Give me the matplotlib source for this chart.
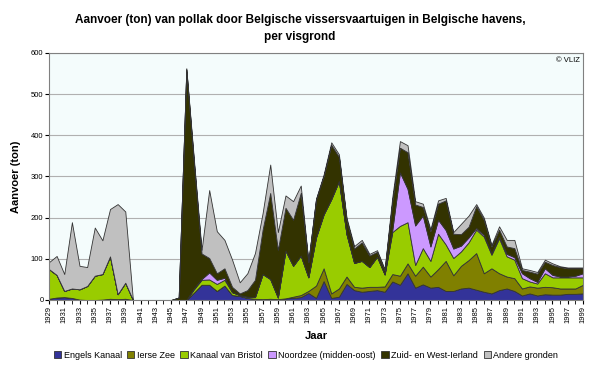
import numpy as np
import matplotlib
matplotlib.use('Agg')
import matplotlib.pyplot as plt
from matplotlib.patches import Patch

years = np.arange(1929, 2000)

# ton per visgrond, 1929-1999
engels_kanaal = [3, 6, 7, 5, 1, 0, 0, 1, 3, 2, 3, 0, 0, 0, 0, 0, 0, 0, 0, 18,
                 37, 37, 22, 35, 12, 10, 5, 3, 2, 3, 2, 4, 5, 7, 17, 5, 46, 5, 8, 39,
                 24, 20, 22, 24, 20, 45, 37, 65, 30, 38, 30, 32, 22, 22, 28, 30, 25, 20, 16, 24,
                 28, 22, 11, 16, 11, 14, 13, 13, 15, 15, 16]
ierse_zee = [0, 0, 0, 0, 0, 0, 0, 0, 0, 0, 0, 0, 0, 0, 0, 0, 0, 0, 0, 0,
             0, 0, 0, 0, 0, 0, 0, 0, 0, 0, 0, 0, 3, 5, 5, 30, 31, 11, 20, 18,
             8, 10, 10, 8, 13, 18, 22, 24, 29, 43, 27, 43, 73, 38, 55, 67, 89, 45, 61, 41,
             29, 31, 17, 17, 19, 18, 18, 15, 13, 13, 21]
kanaal_bristol = [72, 55, 15, 23, 25, 34, 59, 62, 103, 12, 39, 0, 0, 0, 0, 0, 0, 0, 0, 8,
                  12, 13, 17, 14, 7, 2, 3, 4, 61, 48, 4, 116, 75, 96, 33, 117, 131, 229, 261, 103,
                  58, 65, 48, 73, 29, 102, 121, 100, 26, 45, 38, 86, 40, 42, 35, 43, 57, 89, 33, 85,
                  49, 45, 25, 12, 10, 33, 24, 27, 27, 27, 18]
noordzee = [0, 0, 0, 0, 0, 0, 0, 0, 0, 0, 0, 0, 0, 0, 0, 0, 0, 0, 0, 2,
            2, 17, 10, 5, 0, 0, 0, 0, 0, 0, 0, 0, 0, 0, 0, 0, 0, 0, 0, 0,
            0, 0, 0, 0, 0, 5, 130, 81, 96, 79, 35, 34, 35, 23, 14, 12, 4, 4, 3, 4,
            6, 6, 12, 8, 4, 12, 6, 2, 2, 4, 10]
zuid_west_ierland = [0, 0, 0, 0, 0, 0, 0, 0, 0, 0, 0, 0, 0, 0, 0, 0, 0, 6, 560, 305,
                     62, 35, 16, 23, 13, 4, 16, 42, 108, 209, 116, 104, 112, 152, 37, 92, 93, 132, 59, 35,
                     35, 45, 28, 12, 10, 70, 60, 89, 51, 21, 37, 39, 72, 36, 28, 26, 53, 37, 17, 17,
                     18, 22, 8, 16, 20, 16, 24, 23, 20, 18, 12]
andere = [17, 46, 41, 161, 57, 46, 117, 82, 115, 219, 173, 0, 0, 0, 0, 0, 0, 0, 3, 7,
          9, 165, 102, 69, 66, 27, 41, 65, 40, 69, 43, 30, 45, 18, 1, 2, 4, 6, 6, 5,
          6, 6, 4, 4, 3, 10, 16, 17, 8, 8, 5, 8, 6, 4, 25, 27, 5, 5, 4, 8,
          16, 20, 4, 4, 4, 5, 4, 2, 2, 2, 2]

names = ['Engels Kanaal', 'Ierse Zee', 'Kanaal van Bristol', 'Noordzee (midden-oost)',
         'Zuid- en West-Ierland', 'Andere gronden']
colors = ['#333399', '#808000', '#99CC00', '#CC99FF', '#333300', '#C0C0C0']

plt.rcParams['font.family'] = ['Liberation Sans', 'DejaVu Sans']

fig = plt.figure(figsize=(6, 3.68), dpi=100)
ax = fig.add_axes([49/600, 1-300/368, (583-49)/600, (300-53)/368])
ax.set_facecolor('#F4FCFC')

ax.stackplot(years, engels_kanaal, ierse_zee, kanaal_bristol, noordzee,
             zuid_west_ierland, andere, colors=colors,
             edgecolor='#333333', linewidth=0.6)

ax.set_xlim(1929, 1999)
ax.set_ylim(0, 600)
ax.set_yticks(range(0, 601, 100))
ax.set_xticks(range(1929, 2000, 2))
ax.set_xticks(range(1929, 2000), minor=True)
ax.tick_params(axis='x', labelrotation=90, labelsize=5.5, length=3, pad=1)
ax.tick_params(axis='x', which='minor', length=3)
ax.tick_params(axis='y', labelsize=5.5, length=3, pad=1)
ax.grid(axis='y', color='#B0B0B0', linewidth=0.8)
ax.set_axisbelow(True)
for s in ax.spines.values():
    s.set_color('#808080')
    s.set_linewidth(0.8)

ax.set_ylabel('Aanvoer (ton)', fontsize=8, fontweight='bold', labelpad=7)
ax.set_xlabel('Jaar', fontsize=8, fontweight='bold', labelpad=6)

fig.text(0.5, 1-14/368, 'Aanvoer (ton) van pollak door Belgische vissersvaartuigen in Belgische havens,\nper visgrond',
         ha='center', va='top', fontsize=8.5, fontweight='bold', linespacing=1.55)
ax.text(0.995, 0.985, '© VLIZ', transform=ax.transAxes, ha='right', va='top', fontsize=5.5)

handles = [Patch(facecolor=c, edgecolor='#333333', linewidth=0.6) for c in colors]
fig.legend(handles, names, loc='lower center', bbox_to_anchor=(0.51, 0.0), ncol=6,
           frameon=False, fontsize=6.5, handlelength=0.8, handleheight=0.8,
           handletextpad=0.3, columnspacing=0.6)

fig.savefig('out.png', dpi=100)
